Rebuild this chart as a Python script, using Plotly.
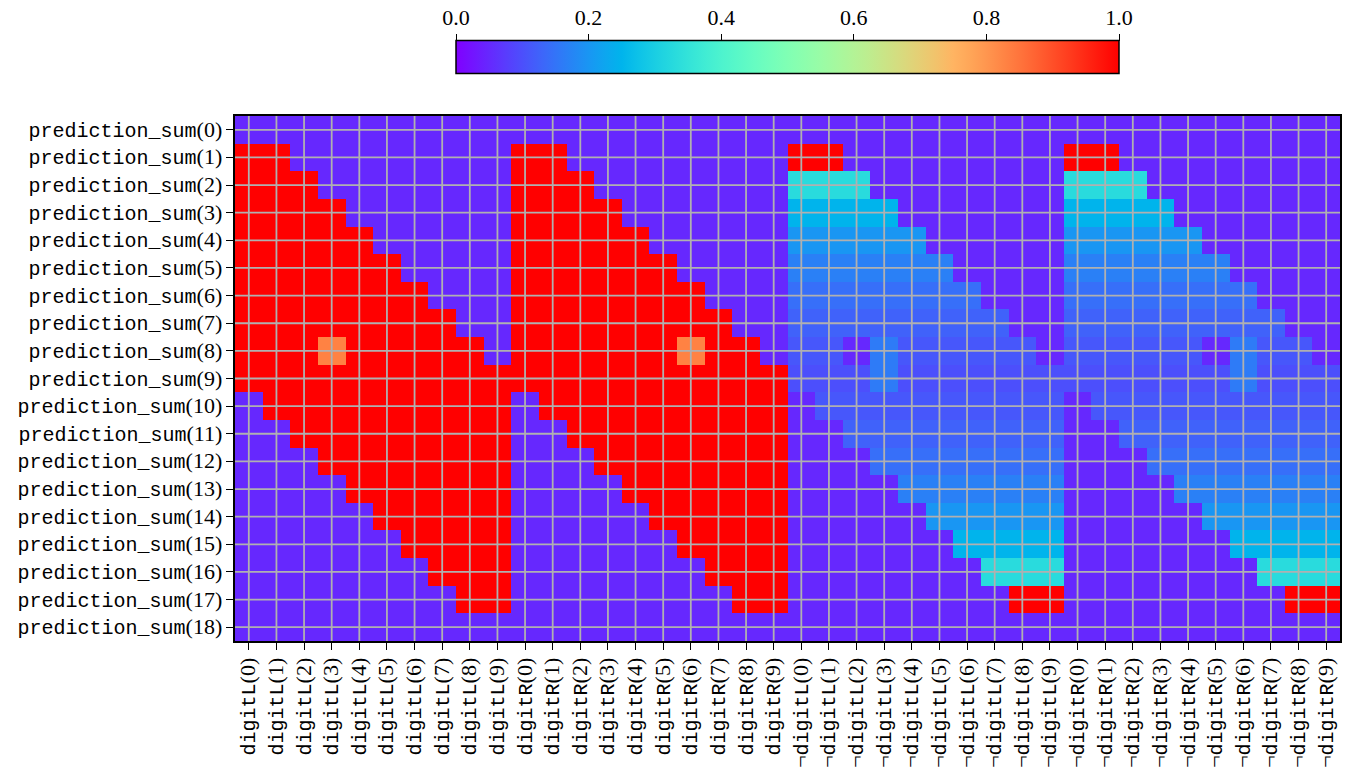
import numpy as np
import plotly.graph_objects as go

B = 0.05  # level of the empty (purple) cells

# ---------------- labels ----------------
sum_values = list(range(19))
digit_values = list(range(10))
col_groups = ["digitL", "digitR", "¬digitL", "¬digitR"]
row_labels = [f"prediction_sum({i})" for i in sum_values]
col_labels = [f"{g}({d})" for g in col_groups for d in digit_values]
colorbar_ticks = [0.0, 0.2, 0.4, 0.6, 0.8, 1.0]
colorbar_ticktext = ["0.0", "0.2", "0.4", "0.6", "0.8", "1.0"]

# ---------------- values (rows = prediction_sum 0..18, cols = digit 0..9) ----------------
digitL_vals = [
    [B, B, B, B, B, B, B, B, B, B],
    [1, 1, B, B, B, B, B, B, B, B],
    [1, 1, 1, B, B, B, B, B, B, B],
    [1, 1, 1, 1, B, B, B, B, B, B],
    [1, 1, 1, 1, 1, B, B, B, B, B],
    [1, 1, 1, 1, 1, 1, B, B, B, B],
    [1, 1, 1, 1, 1, 1, 1, B, B, B],
    [1, 1, 1, 1, 1, 1, 1, 1, B, B],
    [1, 1, 1, 0.83, 1, 1, 1, 1, 1, B],
    [1, 1, 1, 1, 1, 1, 1, 1, 1, 1],
    [B, 1, 1, 1, 1, 1, 1, 1, 1, 1],
    [B, B, 1, 1, 1, 1, 1, 1, 1, 1],
    [B, B, B, 1, 1, 1, 1, 1, 1, 1],
    [B, B, B, B, 1, 1, 1, 1, 1, 1],
    [B, B, B, B, B, 1, 1, 1, 1, 1],
    [B, B, B, B, B, B, 1, 1, 1, 1],
    [B, B, B, B, B, B, B, 1, 1, 1],
    [B, B, B, B, B, B, B, B, 1, 1],
    [B, B, B, B, B, B, B, B, B, B],
]

digitR_vals = [
    [B, B, B, B, B, B, B, B, B, B],
    [1, 1, B, B, B, B, B, B, B, B],
    [1, 1, 1, B, B, B, B, B, B, B],
    [1, 1, 1, 1, B, B, B, B, B, B],
    [1, 1, 1, 1, 1, B, B, B, B, B],
    [1, 1, 1, 1, 1, 1, B, B, B, B],
    [1, 1, 1, 1, 1, 1, 1, B, B, B],
    [1, 1, 1, 1, 1, 1, 1, 1, B, B],
    [1, 1, 1, 1, 1, 1, 0.83, 1, 1, B],
    [1, 1, 1, 1, 1, 1, 1, 1, 1, 1],
    [B, 1, 1, 1, 1, 1, 1, 1, 1, 1],
    [B, B, 1, 1, 1, 1, 1, 1, 1, 1],
    [B, B, B, 1, 1, 1, 1, 1, 1, 1],
    [B, B, B, B, 1, 1, 1, 1, 1, 1],
    [B, B, B, B, B, 1, 1, 1, 1, 1],
    [B, B, B, B, B, B, 1, 1, 1, 1],
    [B, B, B, B, B, B, B, 1, 1, 1],
    [B, B, B, B, B, B, B, B, 1, 1],
    [B, B, B, B, B, B, B, B, B, B],
]

not_digitL_vals = [
    [B, B, B, B, B, B, B, B, B, B],
    [1, 1, B, B, B, B, B, B, B, B],
    [0.33, 0.33, 0.33, B, B, B, B, B, B, B],
    [0.25, 0.25, 0.25, 0.25, B, B, B, B, B, B],
    [0.2, 0.2, 0.2, 0.2, 0.2, B, B, B, B, B],
    [0.167, 0.167, 0.167, 0.167, 0.167, 0.167, B, B, B, B],
    [0.143, 0.143, 0.143, 0.143, 0.143, 0.143, 0.143, B, B, B],
    [0.125, 0.125, 0.125, 0.125, 0.125, 0.125, 0.125, 0.125, B, B],
    [0.111, 0.111, B, 0.16, 0.111, 0.111, 0.111, 0.111, 0.111, B],
    [0.1, 0.1, 0.1, 0.16, 0.1, 0.1, 0.1, 0.1, 0.1, 0.1],
    [B, 0.111, 0.111, 0.111, 0.111, 0.111, 0.111, 0.111, 0.111, 0.111],
    [B, B, 0.125, 0.125, 0.125, 0.125, 0.125, 0.125, 0.125, 0.125],
    [B, B, B, 0.143, 0.143, 0.143, 0.143, 0.143, 0.143, 0.143],
    [B, B, B, B, 0.167, 0.167, 0.167, 0.167, 0.167, 0.167],
    [B, B, B, B, B, 0.2, 0.2, 0.2, 0.2, 0.2],
    [B, B, B, B, B, B, 0.25, 0.25, 0.25, 0.25],
    [B, B, B, B, B, B, B, 0.33, 0.33, 0.33],
    [B, B, B, B, B, B, B, B, 1, 1],
    [B, B, B, B, B, B, B, B, B, B],
]

not_digitR_vals = [
    [B, B, B, B, B, B, B, B, B, B],
    [1, 1, B, B, B, B, B, B, B, B],
    [0.33, 0.33, 0.33, B, B, B, B, B, B, B],
    [0.25, 0.25, 0.25, 0.25, B, B, B, B, B, B],
    [0.2, 0.2, 0.2, 0.2, 0.2, B, B, B, B, B],
    [0.167, 0.167, 0.167, 0.167, 0.167, 0.167, B, B, B, B],
    [0.143, 0.143, 0.143, 0.143, 0.143, 0.143, 0.143, B, B, B],
    [0.125, 0.125, 0.125, 0.125, 0.125, 0.125, 0.125, 0.125, B, B],
    [0.111, 0.111, 0.111, 0.111, 0.111, B, 0.16, 0.111, 0.111, B],
    [0.1, 0.1, 0.1, 0.1, 0.1, 0.1, 0.16, 0.1, 0.1, 0.1],
    [B, 0.111, 0.111, 0.111, 0.111, 0.111, 0.111, 0.111, 0.111, 0.111],
    [B, B, 0.125, 0.125, 0.125, 0.125, 0.125, 0.125, 0.125, 0.125],
    [B, B, B, 0.143, 0.143, 0.143, 0.143, 0.143, 0.143, 0.143],
    [B, B, B, B, 0.167, 0.167, 0.167, 0.167, 0.167, 0.167],
    [B, B, B, B, B, 0.2, 0.2, 0.2, 0.2, 0.2],
    [B, B, B, B, B, B, 0.25, 0.25, 0.25, 0.25],
    [B, B, B, B, B, B, B, 0.33, 0.33, 0.33],
    [B, B, B, B, B, B, B, B, 1, 1],
    [B, B, B, B, B, B, B, B, B, B],
]

z = np.hstack([np.array(digitL_vals), np.array(digitR_vals),
               np.array(not_digitL_vals), np.array(not_digitR_vals)])

# ---------------- style ----------------
MONO = "Liberation Mono"
SERIF = "Liberation Serif"

# matplotlib "rainbow" colormap as a plotly colorscale
stops = np.linspace(0, 1, 41)
colorscale = []
for s in stops:
    r = min(1.0, abs(2 * s - 0.5))
    g = max(0.0, np.sin(np.pi * s))
    b = max(0.0, np.cos(np.pi * s / 2))
    colorscale.append([float(s), f"rgb({round(r*255)},{round(g*255)},{round(b*255)})"])


def fmt_label(lbl):
    neg = lbl.startswith("¬")
    core = lbl[1:] if neg else lbl
    name, rest = core.split("(", 1)
    out = ""
    if neg:
        out += f'<span style="font-family:{SERIF};font-size:22px">¬</span>'
    out += name
    out += f'<span style="font-family:{SERIF};font-size:22px">({rest}</span>'
    return out


x_ticktext = [fmt_label(c) for c in col_labels]
y_ticktext = [fmt_label(r) for r in row_labels]

W, H = 1354, 779
ML, MR, MT, MB = 235, 14, 20, 138
paper_h = H - MT - MB
plot_top_px = 116
main_top = (H - MB - plot_top_px) / paper_h
cb_bottom = (H - MB - 75) / paper_h
cb_top = (H - MB - 42) / paper_h

fig = go.Figure()
fig.add_trace(go.Heatmap(
    z=z, x=col_labels, y=row_labels,
    zmin=0, zmax=1, colorscale=colorscale,
    colorbar=dict(
        orientation="h", x=0.5, xanchor="center", len=0.6, lenmode="fraction",
        y=cb_bottom, yanchor="bottom", yref="paper",
        thickness=(cb_top - cb_bottom) * paper_h, thicknessmode="pixels",
        xpad=0, ypad=0, outlinewidth=1.5, outlinecolor="black",
        showticklabels=False, ticks="",
    ),
    hoverinfo="skip",
))

# helper axis carrying the colorbar's tick labels on its top side
fig.add_trace(go.Scatter(x=[None], y=[None], xaxis="x2", yaxis="y2",
                         mode="markers", showlegend=False, hoverinfo="skip"))

grid_color = "#b0b0b0"
for c in col_labels:
    fig.add_shape(type="line", xref="x", yref="y domain", x0=c, x1=c, y0=0, y1=1,
                  line=dict(color=grid_color, width=1.8), layer="above")
for r in row_labels:
    fig.add_shape(type="line", xref="x domain", yref="y", x0=0, x1=1, y0=r, y1=r,
                  line=dict(color=grid_color, width=1.8), layer="above")

fig.update_layout(
    width=W, height=H,
    margin=dict(l=ML, r=MR, t=MT, b=MB, pad=0, autoexpand=False),
    paper_bgcolor="white", plot_bgcolor="white",
    font=dict(family=SERIF, color="black", size=20),
    xaxis=dict(
        type="category", domain=[0, 1], anchor="y", automargin=False,
        tickmode="array", tickvals=col_labels, ticktext=x_ticktext,
        tickangle=-90, tickfont=dict(family=MONO, size=20, color="black"),
        ticks="outside", ticklen=7, tickwidth=1.3, tickcolor="black",
        showline=True, mirror=True, linecolor="black", linewidth=1.5,
        showgrid=False, zeroline=False,
    ),
    yaxis=dict(
        type="category", domain=[0, main_top], anchor="x", automargin=False,
        autorange="reversed",
        tickmode="array", tickvals=row_labels, ticktext=y_ticktext,
        tickfont=dict(family=MONO, size=20, color="black"),
        ticks="outside", ticklen=7, tickwidth=1.3, tickcolor="black",
        showline=True, mirror=True, linecolor="black", linewidth=1.5,
        showgrid=False, zeroline=False,
    ),
    xaxis2=dict(
        domain=[0.2, 0.8], anchor="y2", side="top", range=[0, 1], automargin=False,
        tickmode="array", tickvals=colorbar_ticks, ticktext=colorbar_ticktext,
        ticks="outside", ticklen=7, tickwidth=1.3, tickcolor="black",
        tickfont=dict(family=SERIF, size=22, color="black"),
        showline=False, showgrid=False, zeroline=False, fixedrange=True,
    ),
    yaxis2=dict(
        domain=[cb_bottom, cb_top], anchor="x2", range=[0, 1], automargin=False,
        visible=False, fixedrange=True,
    ),
)

fig.write_html(
    "out.html",
    config={"displayModeBar": False},
    post_script="document.body.style.margin='0';document.body.style.overflow='hidden';",
)
